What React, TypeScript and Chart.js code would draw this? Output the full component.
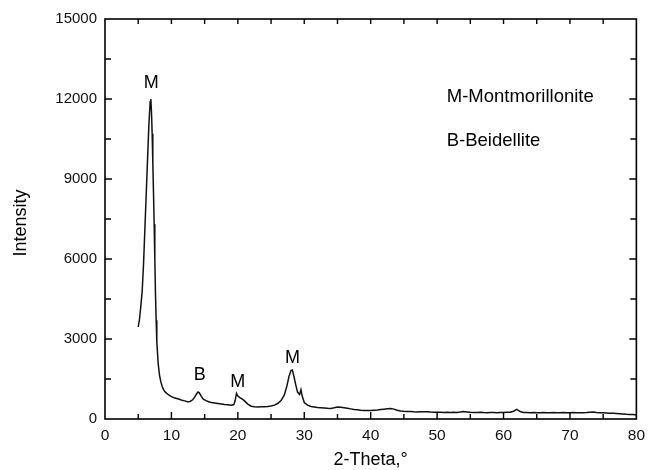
import React, { useEffect, useRef } from "react";
import { Chart, registerables } from "chart.js";

Chart.register(...registerables);

// 2-Theta (degrees)
const twoTheta: number[] = [
  5.0, 5.2, 5.4, 5.6, 5.8, 6.0, 6.2, 6.4, 6.6, 6.8, 6.9, 7.0, 7.1, 7.2, 7.3, 7.4, 7.5, 7.6, 7.7, 7.8,
  8.0, 8.2, 8.4, 8.6, 8.8, 9.0, 9.3, 9.6, 10.0, 10.4, 10.8, 11.2, 11.6, 12.0, 12.4, 12.8, 13.2, 13.5, 13.8, 14.0,
  14.2, 14.5, 14.8, 15.2, 15.6, 16.0, 16.5, 17.0, 17.5, 18.0, 18.5, 19.0, 19.4, 19.6, 19.8, 20.0, 20.3, 20.6, 21.0, 21.5,
  22.0, 22.5, 23.0, 23.5, 24.0, 24.5, 25.0, 25.5, 26.0, 26.5, 27.0, 27.4, 27.7, 28.0, 28.2, 28.4, 28.7, 29.0, 29.3, 29.5,
  29.7, 30.0, 30.5, 31.0, 31.5, 32.0, 32.5, 33.0, 33.5, 34.0, 34.5, 35.0, 35.5, 36.0, 36.5, 37.0, 37.5, 38.0, 38.5, 39.0,
  39.5, 40.0, 40.5, 41.0, 41.5, 42.0, 42.5, 43.0, 43.5, 44.0, 44.5, 45.0, 45.5, 46.0, 46.5, 47.0, 47.5, 48.0, 48.5, 49.0,
  49.5, 50.0, 50.5, 51.0, 51.5, 52.0, 52.5, 53.0, 53.5, 54.0, 54.5, 55.0, 55.5, 56.0, 56.5, 57.0, 57.5, 58.0, 58.5, 59.0,
  59.5, 60.0, 60.5, 61.0, 61.5, 62.0, 62.5, 63.0, 63.5, 64.0, 64.5, 65.0, 65.5, 66.0, 66.5, 67.0, 67.5, 68.0, 68.5, 69.0,
  69.5, 70.0, 70.5, 71.0, 71.5, 72.0, 72.5, 73.0, 73.5, 74.0, 74.5, 75.0, 75.5, 76.0, 76.5, 77.0, 77.5, 78.0, 78.5, 79.0,
  79.5, 80.0,
];

// Intensity (counts)
const intensity: number[] = [
  3450, 3750, 4250, 4800, 5800, 7100, 8400, 9700, 11000, 11900, 12000, 11500, 10700, 9600, 8500, 7300, 6000, 4700, 3700, 2900,
  2100, 1650, 1400, 1230, 1110, 1030, 960, 900, 840, 800, 770, 740, 700, 680, 650, 660, 720, 820, 950, 1010,
  980, 850, 740, 690, 650, 620, 600, 580, 560, 540, 530, 520, 540, 700, 960, 860, 800, 760, 680, 560,
  480, 460, 450, 455, 460, 470, 490, 520, 580, 690, 900, 1250, 1600, 1820, 1840, 1650, 1300, 1000, 920, 1100,
  850, 620, 520, 470, 450, 430, 420, 410, 400, 395, 420, 450, 440, 420, 400, 380, 360, 345, 330, 320,
  315, 320, 330, 340, 355, 370, 380, 390, 370, 330, 300, 290, 285, 280, 270, 265, 270, 275, 270, 260,
  255, 250, 255, 245, 250, 240, 250, 245, 260, 280, 265, 250, 245, 240, 250, 240, 235, 245, 240, 235,
  240, 245, 250, 255, 290, 360, 280, 245, 240, 235, 240, 230, 235, 240, 230, 235, 240, 230, 235, 240,
  235, 230, 240, 235, 230, 235, 240, 250, 260, 245, 235, 230, 225, 220, 215, 205, 195, 185, 175, 170,
  165, 150,
];

const xTickLabels: number[] = [0, 10, 20, 30, 40, 50, 60, 70, 80];
const yTickLabels: number[] = [0, 3000, 6000, 9000, 12000, 15000];

// Peak labels [2-Theta, intensity, text]
const peakLabelX: number[] = [6.95, 14.25, 20.0, 28.24];
const peakLabelY: number[] = [12600, 1650, 1375, 2295];
const peakLabelText: string[] = ["M", "B", "M", "M"];

const legendLines: string[] = ["M-Montmorillonite", "B-Beidellite"];
const legendX: number[] = [51.45, 51.45];
const legendY: number[] = [12060, 10430];

const FONT = "'Liberation Sans', Arial, sans-serif";

const framePlugin = {
  id: "frameAndExtras",
  afterDraw(chart: any) {
    const { ctx, chartArea } = chart;
    const xs = chart.scales.x;
    const ys = chart.scales.y;
    const { left, right, top, bottom } = chartArea;
    ctx.save();
    ctx.strokeStyle = "#000";
    ctx.lineWidth = 1.6;
    ctx.strokeRect(left, top, right - left, bottom - top);
    ctx.lineWidth = 1.4;
    ctx.beginPath();
    for (let v = 0; v <= 80; v += 5) {
      const px = xs.getPixelForValue(v);
      const major = v % 10 === 0;
      const lenB = major ? 7 : 5;
      const lenT = 5;
      if (v !== 0 && v !== 80) {
        ctx.moveTo(px, bottom);
        ctx.lineTo(px, bottom - lenB);
        ctx.moveTo(px, top);
        ctx.lineTo(px, top + lenT);
      }
    }
    for (let v = 0; v <= 15000; v += 1500) {
      const py = ys.getPixelForValue(v);
      const major = v % 3000 === 0;
      const len = major ? 7 : 6;
      if (v !== 0 && v !== 15000) {
        ctx.moveTo(left, py);
        ctx.lineTo(left + len, py);
        ctx.moveTo(right, py);
        ctx.lineTo(right - len, py);
      }
    }
    ctx.stroke();

    ctx.fillStyle = "#000";
    ctx.font = `18px ${FONT}`;
    ctx.textAlign = "center";
    ctx.textBaseline = "middle";
    for (let i = 0; i < peakLabelText.length; i++) {
      ctx.fillText(peakLabelText[i], xs.getPixelForValue(peakLabelX[i]), ys.getPixelForValue(peakLabelY[i]));
    }
    ctx.font = `18.5px ${FONT}`;
    ctx.textAlign = "left";
    for (let i = 0; i < legendLines.length; i++) {
      ctx.fillText(legendLines[i], xs.getPixelForValue(legendX[i]), ys.getPixelForValue(legendY[i]));
    }

    ctx.font = `18px ${FONT}`;
    ctx.textAlign = "center";
    ctx.fillText("2-Theta,°", (left + right) / 2, 460);
    ctx.translate(21, (top + bottom) / 2 + 4);
    ctx.rotate(-Math.PI / 2);
    ctx.fillText("Intensity", 0, 0);
    ctx.restore();
  },
};

export default function App() {
  const ref = useRef<HTMLCanvasElement | null>(null);
  useEffect(() => {
    document.body.style.margin = "0";
    const canvas = ref.current;
    if (!canvas) return;
    const data = twoTheta.map((x, i) => ({ x, y: intensity[i] }));
    const chart = new Chart(canvas, {
      type: "line",
      data: {
        datasets: [
          {
            data,
            borderColor: "#111",
            borderWidth: 1.5,
            pointRadius: 0,
            tension: 0,
            fill: false,
          },
        ],
      },
      options: {
        animation: false,
        responsive: false,
        devicePixelRatio: 1,
        layout: { padding: { top: 19, right: 11, left: 0, bottom: 0 } },
        plugins: { legend: { display: false }, tooltip: { enabled: false } },
        scales: {
          x: {
            type: "linear",
            min: 0,
            max: 80,
            grid: { display: false, drawTicks: false },
            border: { display: false },
            afterFit: (s: any) => {
              s.height = 51;
            },
            afterBuildTicks: (s: any) => {
              s.ticks = xTickLabels.map((v) => ({ value: v }));
            },
            ticks: {
              padding: 7,
              color: "#111",
              font: { family: FONT, size: 15.5 },
              maxRotation: 0,
              autoSkip: false,
            },
          },
          y: {
            type: "linear",
            min: 0,
            max: 15000,
            grid: { display: false, drawTicks: false },
            border: { display: false },
            afterFit: (s: any) => {
              s.width = 105;
            },
            afterBuildTicks: (s: any) => {
              s.ticks = yTickLabels.map((v) => ({ value: v }));
            },
            ticks: {
              padding: 8,
              color: "#111",
              font: { family: FONT, size: 15 },
              autoSkip: false,
              callback: (v: any) => String(v),
            },
          },
        },
      },
      plugins: [framePlugin],
    });
    return () => chart.destroy();
  }, []);
  return <canvas ref={ref} width={652} height={470} style={{ display: "block" }} />;
}
